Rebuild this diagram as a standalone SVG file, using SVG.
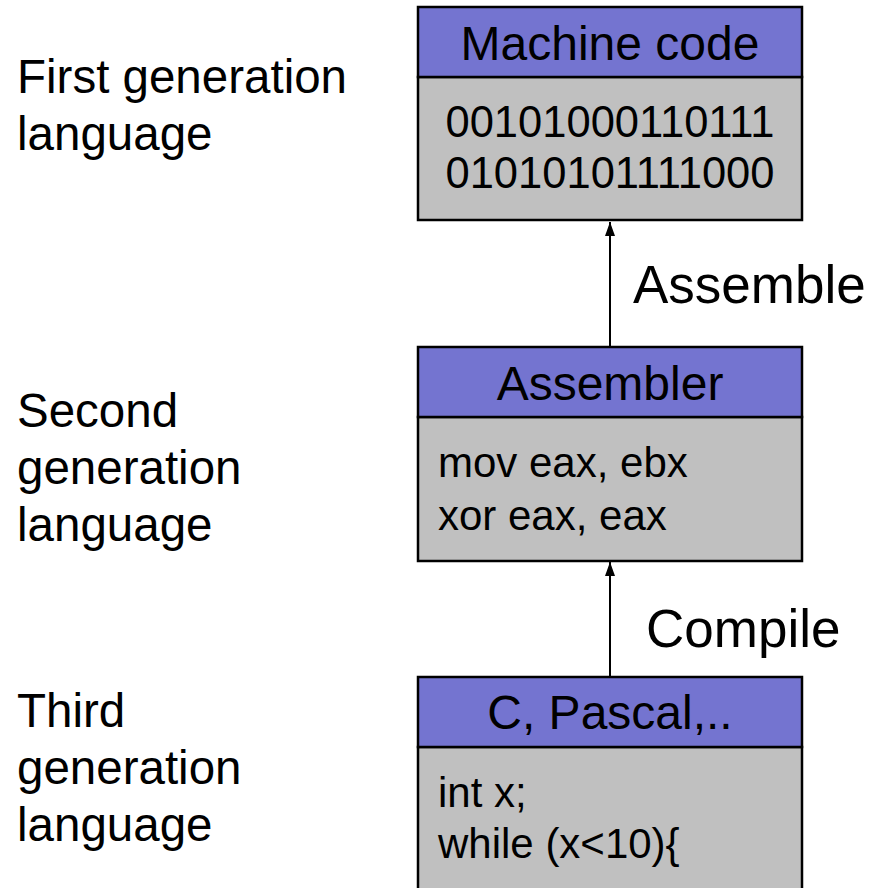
<svg xmlns="http://www.w3.org/2000/svg" width="872" height="888" viewBox="0 0 872 888">
<defs>
<style>
text{font-family:"Liberation Sans",Arial,sans-serif;fill:#000}
.lbl{font-size:47.5px}
.hdr{fill:#7474D0;stroke:#000;stroke-width:2.5}
.body{fill:#C0C0C0;stroke:#000;stroke-width:2.5}
.ttl{font-size:48px;text-anchor:middle}
.code{font-size:42px}
.bits{font-size:43.5px;text-anchor:middle}
.edge{font-size:53px}
.conn{stroke:#000;stroke-width:2;fill:none}
</style>
<marker id="ah" viewBox="0 0 14 10" refX="14" refY="5" markerWidth="14" markerHeight="10" markerUnits="userSpaceOnUse" orient="auto">
<path d="M0,0 L14,5 L0,10 Z" fill="#000"/>
</marker>
</defs>
<g id="label-first">
<text class="lbl" x="17" y="93">First generation</text>
<text class="lbl" x="17" y="150">language</text>
</g>
<g id="label-second">
<text class="lbl" x="17" y="427">Second</text>
<text class="lbl" x="17" y="484">generation</text>
<text class="lbl" x="17" y="541">language</text>
</g>
<g id="label-third">
<text class="lbl" x="17" y="727">Third</text>
<text class="lbl" x="17" y="784">generation</text>
<text class="lbl" x="17" y="841">language</text>
</g>
<g id="machine-code">
<rect class="body" x="418" y="77" width="384" height="143"/>
<rect class="hdr" x="418" y="7" width="384" height="70"/>
<text class="ttl" x="610" y="60">Machine code</text>
<text class="bits" x="610" y="137">00101000110111</text>
<text class="bits" x="610" y="188">01010101111000</text>
</g>
<g id="assembler">
<rect class="body" x="418" y="417" width="384" height="144"/>
<rect class="hdr" x="418" y="347" width="384" height="70"/>
<text class="ttl" x="610" y="400">Assembler</text>
<text class="code" x="438" y="477">mov eax, ebx</text>
<text class="code" x="438" y="530">xor eax, eax</text>
</g>
<g id="high-level">
<rect class="body" x="418" y="747" width="384" height="160"/>
<rect class="hdr" x="418" y="677" width="384" height="70"/>
<text class="ttl" x="610" y="729">C, Pascal,..</text>
<text class="code" x="438" y="807">int x;</text>
<text class="code" x="438" y="858">while (x&lt;10){</text>
</g>
<g id="connectors">
<line class="conn" x1="610" y1="347" x2="610" y2="222" marker-end="url(#ah)"/>
<text class="edge" x="633" y="303">Assemble</text>
<line class="conn" x1="610" y1="677" x2="610" y2="562" marker-end="url(#ah)"/>
<text class="edge" x="646" y="647">Compile</text>
</g>
</svg>
